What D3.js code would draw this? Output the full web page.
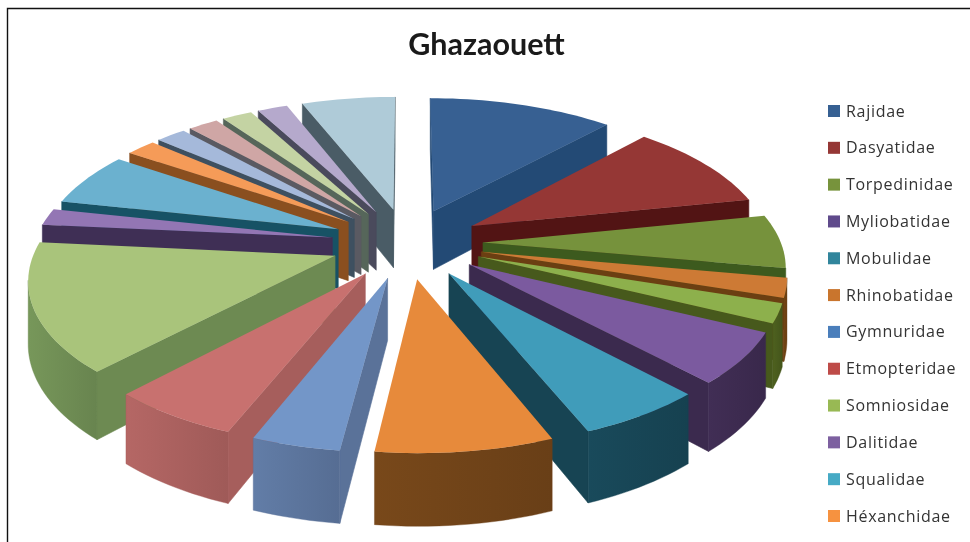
<!DOCTYPE html>
<html>
<head>
<meta charset="utf-8">
<script src="https://cdn.jsdelivr.net/npm/d3@7"></script>
<style>
  html, body { margin: 0; padding: 0; background: #fff; }
  svg { filter: blur(0.45px); }
</style>
</head>
<body>
<div id="chart"></div>
<script>
var legendNames = ['Rajidae', 'Dasyatidae', 'Torpedinidae', 'Myliobatidae', 'Mobulidae', 'Rhinobatidae',
  'Gymnuridae', 'Etmopteridae', 'Somniosidae', 'Dalitidae', 'Squalidae', 'Héxanchidae'];

// share of each family in %, clockwise from 12 o'clock. The legend is cut off after
// the 12th name so the last slices have no readable label.
var sliceValues = [11.7, 10, 6.1, 0, 0, 2.2, 0, 0, 2.2, 5.8, 5.8, 8.0,
  4.0, 5.9, 14.6, 1.9, 6.1, 1.9, 1.9, 1.9, 1.9, 1.9, 5.9];

var legendColors = ['#366092', '#953735', '#77933c', '#5f4a8b', '#31859c', '#c9752d',
  '#4a7ebb', '#be4b48', '#98b954', '#7d60a0', '#46aac5', '#f69240'];

var topColors = ['#376092', '#953735', '#76923c', '#5f497a', '#31859b', '#cd7a35',
  '#4f81bd', '#c0504d', '#8db04c', '#7b5a9f', '#409cba', '#e78a3b',
  '#7396c8', '#c8716f', '#a9c47b', '#9376b4', '#6bb1cf', '#f59b58',
  '#a5b9da', '#cfa6a5', '#c4d3a3', '#b5a9cc', '#afcbd8'];

var sideColors = ['#234a75', '#521414', '#3d5a1e', '#3a2a50', '#17424f', '#6b3f12',
  '#2a4a75', '#8a3a38', '#47591c', '#3b2a4e', '#174453', '#6e4218',
  '#5a7299', '#a65e5c', '#6d8a52', '#3f2f55', '#175265', '#8a4f1f',
  '#3e5060', '#5a5a62', '#56665a', '#4a4a5c', '#4a5c66'];

var width = 970;
var height = 542;

var cx = 407, cy = 243;      // pie centre on the page
var radius = 298;
var explode = 76;
var tilt = 0.462;            // vertical squash of the pie plane
var persp = 0.00048;         // how much bigger the front gets
var depth = 60;              // thickness of the slices

var svg = d3.select('#chart')
  .append('svg')
  .attr('width', width)
  .attr('height', height)
  .style('display', 'block');

var defs = svg.append('defs');

svg.append('rect')
  .attr('width', width)
  .attr('height', height)
  .attr('fill', '#fff');

// frame
svg.append('path')
  .attr('d', 'M7.5,' + height + 'V8.5H' + width)
  .attr('fill', 'none')
  .attr('stroke', '#111')
  .attr('stroke-width', 1.4);

svg.append('text')
  .attr('x', 486.5)
  .attr('y', 55)
  .attr('text-anchor', 'middle')
  .attr('font-family', 'Lato, "Open Sans", sans-serif')
  .attr('font-weight', 700)
  .attr('font-size', 30.5)
  .attr('fill', '#1a1a1a')
  .text('Ghazaouett');

// turn a point on the pie plane into page coordinates
function project(X, Y, z) {
  var s = 1 / (1 - Y * persp);
  return [cx + X * s, cy + Y * tilt * s + (z || 0) * s];
}

var pie = d3.pie().sort(null).value(d => d);
var arcs = pie(sliceValues).map(function(a, i) {
  a.index = i;
  a.mid = (a.startAngle + a.endAngle) / 2;
  return a;
}).filter(d => d.value > 0);

function slicePoints(a) {
  var ox = explode * Math.sin(a.mid);
  var oy = -explode * Math.cos(a.mid);
  var steps = Math.max(2, Math.ceil((a.endAngle - a.startAngle) / 0.03));
  var angle = d3.scaleLinear().domain([0, steps]).range([a.startAngle, a.endAngle]);
  var pts = [[ox, oy]];
  d3.range(steps + 1).forEach(function(k) {
    var t = angle(k);
    pts.push([ox + radius * Math.sin(t), oy - radius * Math.cos(t)]);
  });
  return pts;
}

var line = d3.line();

// far slices first so near ones paint over them
arcs.sort((a, b) => (-Math.cos(a.mid)) - (-Math.cos(b.mid)));

var slices = svg.selectAll('g.slice')
  .data(arcs)
  .enter()
  .append('g')
  .attr('class', 'slice');

slices.each(function(a) {
  var g = d3.select(this);
  var pts = slicePoints(a);
  var n = pts.length;
  var side = sideColors[a.index];

  var gradId = 'wall' + a.index;
  var grad = defs.append('linearGradient').attr('id', gradId);
  grad.append('stop').attr('offset', '0%').attr('stop-color', d3.color(side).brighter(0.25));
  grad.append('stop').attr('offset', '100%').attr('stop-color', d3.color(side).darker(0.12));

  // radial walls: first the one leaving the apex, then the one coming back
  [[0, 1], [n - 1, 0]].forEach(function(e) {
    var p = project(pts[e[0]][0], pts[e[0]][1]);
    var q = project(pts[e[1]][0], pts[e[1]][1]);
    if (p[0] > q[0]) {
      g.append('path')
        .attr('d', line([p, q,
          project(pts[e[1]][0], pts[e[1]][1], depth),
          project(pts[e[0]][0], pts[e[0]][1], depth)]) + 'Z')
        .attr('fill', side)
        .attr('stroke', side)
        .attr('stroke-width', 0.6);
    }
  });

  // rim: only the parts that face the viewer
  var rim = pts.slice(1);
  var front = [];
  rim.forEach(function(pt, k) {
    if (k < rim.length - 1) {
      var p = project(pt[0], pt[1]);
      var q = project(rim[k + 1][0], rim[k + 1][1]);
      if (p[0] > q[0]) front.push(pt, rim[k + 1]);
    }
  });
  if (front.length) {
    var upper = front.map(d => project(d[0], d[1]));
    var lower = front.map(d => project(d[0], d[1], depth)).reverse();
    g.append('path')
      .attr('d', line(upper.concat(lower)) + 'Z')
      .attr('fill', 'url(#' + gradId + ')')
      .attr('stroke', side)
      .attr('stroke-width', 0.4);
  }

  g.append('path')
    .attr('d', line(pts.map(d => project(d[0], d[1]))) + 'Z')
    .attr('fill', topColors[a.index]);
});

// legend
var legendY = d3.scalePoint()
  .domain(legendNames)
  .range([111, 516]);

var legend = svg.selectAll('g.legend')
  .data(legendNames)
  .enter()
  .append('g')
  .attr('class', 'legend')
  .attr('transform', d => 'translate(828,' + legendY(d) + ')');

legend.append('rect')
  .attr('x', 0)
  .attr('y', -6)
  .attr('width', 12)
  .attr('height', 12)
  .attr('fill', (d, i) => legendColors[i]);

legend.append('text')
  .attr('x', 18)
  .attr('y', 5.5)
  .attr('font-family', '"Open Sans", Lato, sans-serif')
  .attr('font-size', 16)
  .attr('letter-spacing', 0.7)
  .attr('fill', '#333')
  .text(d => d);
</script>
</body>
</html>
